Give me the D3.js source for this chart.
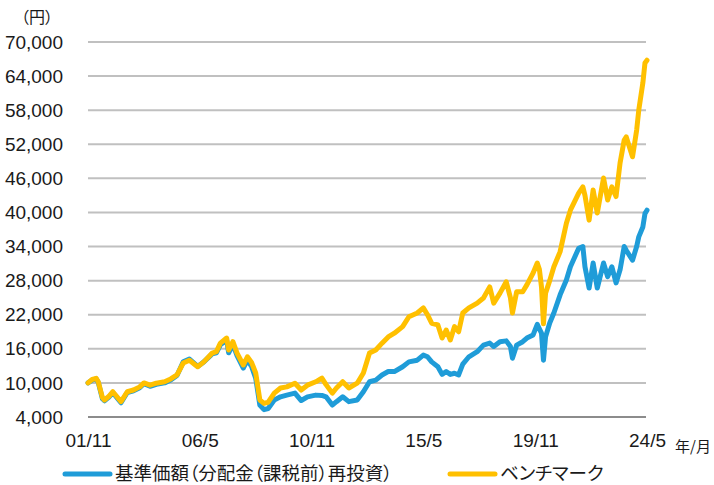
<!DOCTYPE html>
<html>
<head>
<meta charset="utf-8">
<script src="https://cdn.jsdelivr.net/npm/d3@7"></script>
<style>
  body { margin: 0; background: #fff; }
  svg text { font-family: "Liberation Sans", Arial, sans-serif; fill: #1a1a1a; }
  .jp { font-family: "Noto Sans CJK JP", sans-serif; font-feature-settings: "palt"; }
</style>
</head>
<body>
<div id="chart"></div>
<script>
// monthly readings (yyyy-mm)
const dates = [
  "2001-11", "2002-01", "2002-03", "2002-04", "2002-06", "2002-07", "2002-09", "2002-11",
  "2003-03", "2003-06", "2003-09", "2003-12", "2004-02", "2004-05", "2004-08", "2004-12",
  "2005-03", "2005-06", "2005-09", "2005-12", "2006-04", "2006-07", "2006-11", "2007-01",
  "2007-03", "2007-06", "2007-07", "2007-09", "2007-11", "2008-02", "2008-04", "2008-06",
  "2008-08", "2008-10", "2008-12", "2009-02", "2009-05", "2009-08", "2009-11", "2010-03",
  "2010-06", "2010-09", "2011-01", "2011-04", "2011-06", "2011-09", "2011-11", "2012-02",
  "2012-05", "2012-09", "2012-12", "2013-03", "2013-06", "2013-09", "2013-12", "2014-03",
  "2014-07", "2014-10", "2015-02", "2015-05", "2015-07", "2015-09", "2015-12", "2016-02",
  "2016-04", "2016-06", "2016-08", "2016-10", "2016-12", "2017-03", "2017-07", "2017-10",
  "2018-01", "2018-03", "2018-06", "2018-09", "2018-11", "2018-12", "2019-02", "2019-05",
  "2019-07", "2019-10", "2019-12", "2020-01", "2020-02", "2020-03", "2020-04", "2020-06",
  "2020-08", "2020-11", "2021-02", "2021-04", "2021-08", "2021-10", "2021-11", "2022-01",
  "2022-03", "2022-05", "2022-08", "2022-10", "2022-12", "2023-02", "2023-04", "2023-06",
  "2023-07", "2023-10", "2023-12", "2024-01", "2024-03", "2024-04", "2024-05"
];

// 基準価額（分配金（課税前）再投資）
const fundValues = [
  10000, 10500, 10700, 10100, 7200, 6850, 7450, 8300,
  6500, 8300, 8600, 9150, 9850, 9400, 9750, 10000,
  10500, 11300, 13700, 14200, 12900, 13700, 15100, 15300,
  16700, 17500, 15300, 16800, 14800, 12600, 14000, 12900,
  10850, 6100, 5300, 5500, 7000, 7550, 7850, 8200,
  6900, 7550, 7850, 7800, 7550, 6100, 6700, 7550,
  6700, 7000, 8450, 10200, 10500, 11400, 12000, 12000,
  12850, 13700, 14000, 14900, 14600, 13700, 12850, 11500,
  12000, 11500, 11700, 11400, 13300, 14600, 15500, 16650,
  17000, 16400, 17250, 17400, 16400, 14350, 16650, 17250,
  17900, 18450, 20300, 19500, 18750, 14000, 18100, 20550,
  22300, 25500, 28100, 30450, 33700, 34000, 30450, 26700,
  31100, 26700, 31100, 28700, 30450, 27600, 29900, 34000,
  33350, 31600, 34000, 35700, 37450, 39800, 40400
];

// ベンチマーク
const benchValues = [
  10000, 10600, 10800, 10200, 7400, 7000, 7600, 8450,
  6700, 8450, 8750, 9300, 10000, 9600, 9950, 10200,
  10700, 11400, 13500, 14000, 12850, 13700, 15250, 15500,
  17000, 17900, 15800, 17250, 15250, 13150, 14600, 13600,
  11750, 7000, 6400, 6600, 8200, 9100, 9300, 9950,
  8750, 9600, 10200, 10850, 9700, 8200, 9100, 10200,
  9100, 9950, 11750, 15250, 15800, 17000, 18100, 18750,
  19900, 21650, 22300, 23200, 22000, 20500, 20200, 17900,
  19300, 17550, 19900, 19000, 22300, 23200, 24050, 24950,
  26900, 24050, 25800, 27800, 25000, 22300, 26050, 26050,
  27250, 29350, 31100, 30000, 26900, 20400, 25800, 28000,
  30450, 33100, 38100, 40400, 43400, 44500, 43000, 38650,
  43950, 39900, 46050, 42200, 44500, 42800, 48700, 52750,
  53300, 49800, 54500, 58000, 62800, 66300, 66800
];

const yTicks = [4000, 10000, 16000, 22000, 28000, 34000, 40000, 46000, 52000, 58000, 64000, 70000];
const xTicks = ["2001-11", "2006-05", "2010-11", "2015-05", "2019-11", "2024-05"];
const seriesNames = ["基準価額（分配金（課税前）再投資）", "ベンチマーク"];
const seriesColors = ["#1f9cd8", "#ffc000"];

const width = 714;
const height = 485;
const parseMonth = d3.timeParse("%Y-%m");
const formatTick = (d) => d3.timeFormat("%y")(d) + "/" + (d.getMonth() + 1);

const svg = d3.select("#chart")
  .append("svg")
  .attr("width", width)
  .attr("height", height);

const x = d3.scaleTime()
  .domain([parseMonth(dates[0]), parseMonth(dates[dates.length - 1])])
  .range([88, 647]);

const y = d3.scaleLinear()
  .domain([4000, 70000])
  .range([417, 42]);

// gridlines
svg.append("g")
  .selectAll("line")
  .data(yTicks.slice(1))
  .join("line")
  .attr("x1", 88)
  .attr("x2", 646)
  .attr("y1", (d) => y(d))
  .attr("y2", (d) => y(d))
  .attr("stroke", "#c0c0c0")
  .attr("stroke-width", 2);

// y axis labels
const yAxis = d3.axisLeft(y)
  .tickValues(yTicks)
  .tickSize(0)
  .tickPadding(0)
  .tickFormat(d3.format(","));

svg.append("g")
  .attr("transform", "translate(63,0)")
  .call(yAxis)
  .call((g) => g.select(".domain").remove())
  .selectAll("text")
  .style("font-size", "19px")
  .attr("fill", "#1a1a1a");

// x axis
const xAxis = d3.axisBottom(x)
  .tickValues(xTicks.map(parseMonth))
  .tickSize(0)
  .tickPadding(17)
  .tickFormat(formatTick);

svg.append("g")
  .attr("transform", "translate(0,417)")
  .call(xAxis)
  .call((g) => g.select(".domain").remove())
  .selectAll("text")
  .style("font-size", "19px")
  .attr("fill", "#1a1a1a");

svg.append("line")
  .attr("x1", 88)
  .attr("x2", 646)
  .attr("y1", y(4000))
  .attr("y2", y(4000))
  .attr("stroke", "#8c8c8c")
  .attr("stroke-width", 2);

// lines
const line = d3.line()
  .x((d, i) => x(parseMonth(dates[i])))
  .y((d) => y(d));

[fundValues, benchValues].forEach((values, i) => {
  svg.append("path")
    .datum(values)
    .attr("fill", "none")
    .attr("stroke", seriesColors[i])
    .attr("stroke-width", 5)
    .attr("stroke-linejoin", "round")
    .attr("stroke-linecap", "round")
    .attr("d", line);
});

// unit labels
svg.append("text")
  .attr("class", "jp")
  .attr("x", 37)
  .attr("y", 23)
  .attr("text-anchor", "middle")
  .style("font-size", "16px")
  .text("（円）");

svg.append("text")
  .attr("class", "jp")
  .attr("x", 675)
  .attr("y", 452)
  .style("font-size", "15px")
  .text("年/月");

// legend
const legendX = [65, 450];
seriesNames.forEach((name, i) => {
  const g = svg.append("g").attr("transform", `translate(${legendX[i]},474)`);
  g.append("line")
    .attr("x1", 0)
    .attr("x2", 45)
    .attr("stroke", seriesColors[i])
    .attr("stroke-width", 5)
    .attr("stroke-linecap", "round");
  g.append("text")
    .attr("class", "jp")
    .attr("x", 50)
    .attr("y", 6)
    .style("font-size", "18.5px")
    .text(name);
});
</script>
</body>
</html>
